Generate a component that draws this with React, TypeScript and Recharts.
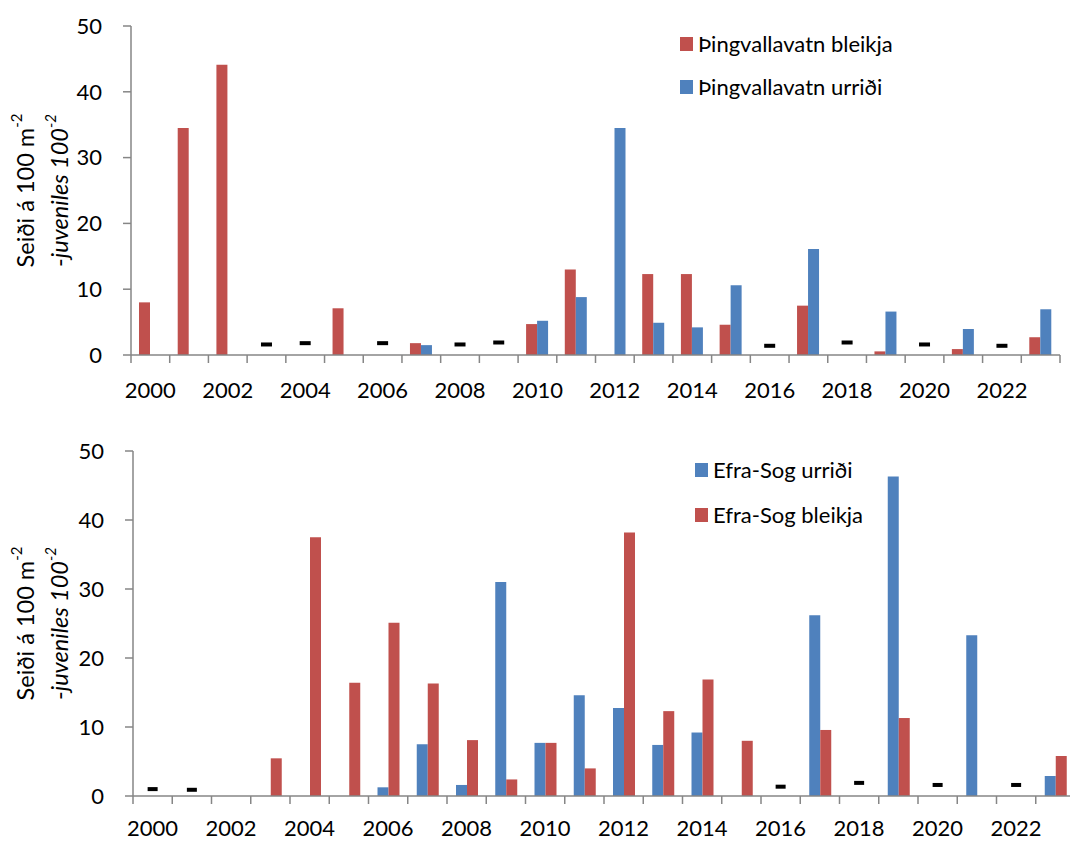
import React from 'react';
import { ComposedChart, Bar, Line, XAxis, YAxis, Legend } from 'recharts';

const FONT = 'Lato, "Noto Sans", sans-serif';
const RED = '#C0504D';
const BLUE = '#4F81BD';
const AXIS = '#868686';

const years = [
  2000, 2001, 2002, 2003, 2004, 2005, 2006, 2007, 2008, 2009, 2010, 2011,
  2012, 2013, 2014, 2015, 2016, 2017, 2018, 2019, 2020, 2021, 2022, 2023,
];

// Þingvallavatn (top panel)
const thingBleikja = [8.0, 34.5, 44.1, null, null, 7.1, null, 1.8, null, null, 4.7, 13.0, null, 12.3, 12.3, 4.6, null, 7.5, null, 0.55, null, 0.9, null, 2.7];
const thingUrridi = [null, null, null, null, null, null, null, 1.5, null, null, 5.2, 8.8, 34.5, 4.9, 4.2, 10.6, null, 16.1, null, 6.6, null, 3.95, null, 6.95];
// years not sampled, drawn as a short dash
const thingNotSampled = [null, null, null, 1.6, 1.8, null, 1.8, null, 1.6, 1.9, null, null, null, null, null, null, 1.4, null, 1.9, null, 1.6, null, 1.4, null];

// Efra-Sog (bottom panel)
const sogUrridi = [null, null, null, null, null, null, 1.26, 7.5, 1.6, 31.0, 7.7, 14.6, 12.75, 7.4, 9.2, null, null, 26.2, null, 46.3, null, 23.3, null, 2.9];
const sogBleikja = [null, null, null, 5.46, 37.5, 16.4, 25.1, 16.3, 8.1, 2.4, 7.7, 4.0, 38.2, 12.3, 16.9, 8.0, null, 9.57, null, 11.3, null, null, null, 5.8];
const sogNotSampled = [1.0, 0.9, null, null, null, null, null, null, null, null, null, null, null, null, null, null, 1.35, null, 1.9, null, 1.6, null, 1.6, null];

const yTicks = [0, 10, 20, 30, 40, 50];

const topData = years.map((year, i) => ({
  year,
  bleikja: thingBleikja[i],
  urridi: thingUrridi[i],
  dash: thingNotSampled[i],
}));

const bottomData = years.map((year, i) => ({
  year,
  urridi: sogUrridi[i],
  bleikja: sogBleikja[i],
  dash: sogNotSampled[i],
}));

function YearTick(props: any) {
  const { x, y, payload, band, labelGap } = props;
  const half = band / 2;
  const isLast = payload.index === years.length - 1;
  return (
    <g>
      <line x1={x - half} x2={x - half} y1={y} y2={y + 8} stroke={AXIS} strokeWidth={1.5} />
      {isLast && <line x1={x + half} x2={x + half} y1={y} y2={y + 8} stroke={AXIS} strokeWidth={1.5} />}
      {payload.value % 2 === 0 && (
        <text x={x} y={y + labelGap} textAnchor="middle" fontSize={22} fill="#000" fontFamily={FONT}>
          {payload.value}
        </text>
      )}
    </g>
  );
}

const renderDash = (w: number) => (p: any) => {
  if (p.cy == null || p.value == null) return <g key={`d${p.index}`} />;
  return <rect key={`d${p.index}`} x={p.cx - w / 2} y={p.cy - 2} width={w} height={4} fill="#000" />;
};

function YLabel(props: any) {
  const { viewBox } = props;
  const cy = viewBox.y + viewBox.height / 2;
  const x1 = 25;
  const x2 = 59;
  return (
    <g fontFamily={FONT} fontSize={23.5} fill="#000">
      <text x={x1} y={cy} transform={`rotate(-90 ${x1} ${cy})`} textAnchor="middle" dominantBaseline="central">
        Seiði á 100 m<tspan fontSize={15} dy={-9}>-2</tspan>
      </text>
      <text x={x2} y={cy} transform={`rotate(-90 ${x2} ${cy})`} textAnchor="middle" dominantBaseline="central">
        -<tspan fontStyle="italic">juveniles 100</tspan>
        <tspan fontStyle="italic" fontSize={15} dy={-9}>-2</tspan>
      </text>
    </g>
  );
}

function SeriesLegend({ payload, rowGap, order }: any) {
  const items = (payload || [])
    .filter((item: any) => item.type !== 'none' && item.dataKey !== 'dash')
    .sort((a: any, b: any) => order.indexOf(a.dataKey) - order.indexOf(b.dataKey));
  return (
    <div style={{ fontFamily: FONT, fontSize: 22, color: '#000' }}>
      {items.map((item: any) => (
        <div key={item.value} style={{ display: 'flex', alignItems: 'center', height: rowGap, whiteSpace: 'nowrap' }}>
          <span style={{ display: 'inline-block', width: 13, height: 14, background: item.color, marginRight: 5 }} />
          <span>{item.value}</span>
        </div>
      ))}
    </div>
  );
}

export default function App() {
  return (
    <div style={{ position: 'absolute', left: 0, top: 0, width: 1070, height: 841, overflow: 'hidden', background: '#fff' }}>
      {/* Þingvallavatn */}
      <ComposedChart width={1070} height={420} data={topData} barGap={0} margin={{ top: 26, right: 10, bottom: 0, left: 0 }}>
        <XAxis
          dataKey="year"
          height={65}
          interval={0}
          tickSize={0}
          tickMargin={0}
          tickLine={false}
          axisLine={{ stroke: AXIS, strokeWidth: 1.5 }}
          tick={(p: any) => <YearTick {...p} band={(1070 - 131 - 10) / years.length} labelGap={43} />}
        />
        <YAxis
          width={131}
          domain={[0, 50]}
          ticks={yTicks}
          tickSize={8}
          tickMargin={21}
          axisLine={{ stroke: AXIS, strokeWidth: 1.5 }}
          tickLine={{ stroke: AXIS, strokeWidth: 1.5 }}
          tick={{ fill: '#000', fontSize: 22, fontFamily: FONT }}
          label={<YLabel />}
        />
        <Legend
          layout="vertical"
          align="center"
          verticalAlign="middle"
          wrapperStyle={{ left: 680, top: 22, width: 'auto' }}
          content={(p: any) => <SeriesLegend {...p} rowGap={43} order={['bleikja', 'urridi']} />}
        />
        <Bar dataKey="bleikja" name="Þingvallavatn bleikja" fill={RED} barSize={11} isAnimationActive={false} />
        <Bar dataKey="urridi" name="Þingvallavatn urriði" fill={BLUE} barSize={11} isAnimationActive={false} />
        <Line dataKey="dash" stroke="none" legendType="none" dot={renderDash(11)} activeDot={false} isAnimationActive={false} />
      </ComposedChart>

      {/* Efra-Sog */}
      <ComposedChart width={1085} height={421} data={bottomData} barGap={0} margin={{ top: 31, right: 10, bottom: 0, left: 0 }}>
        <XAxis
          dataKey="year"
          height={45}
          interval={0}
          tickSize={0}
          tickMargin={0}
          tickLine={false}
          axisLine={{ stroke: AXIS, strokeWidth: 1.5 }}
          tick={(p: any) => <YearTick {...p} band={(1085 - 133 - 10) / years.length} labelGap={40} />}
        />
        <YAxis
          width={133}
          domain={[0, 50]}
          ticks={yTicks}
          tickSize={8}
          tickMargin={21}
          axisLine={{ stroke: AXIS, strokeWidth: 1.5 }}
          tickLine={{ stroke: AXIS, strokeWidth: 1.5 }}
          tick={{ fill: '#000', fontSize: 22, fontFamily: FONT }}
          label={<YLabel />}
        />
        <Legend
          layout="vertical"
          align="center"
          verticalAlign="middle"
          wrapperStyle={{ left: 695, top: 27, width: 'auto' }}
          content={(p: any) => <SeriesLegend {...p} rowGap={45} order={['urridi', 'bleikja']} />}
        />
        <Bar dataKey="urridi" name="Efra-Sog urriði" fill={BLUE} barSize={11} isAnimationActive={false} />
        <Bar dataKey="bleikja" name="Efra-Sog bleikja" fill={RED} barSize={11} isAnimationActive={false} />
        <Line dataKey="dash" stroke="none" legendType="none" dot={renderDash(10)} activeDot={false} isAnimationActive={false} />
      </ComposedChart>
    </div>
  );
}
